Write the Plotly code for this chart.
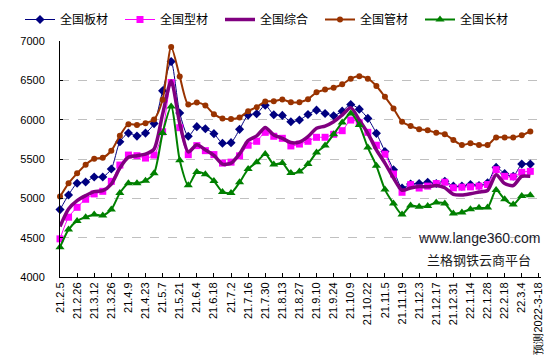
import plotly.graph_objects as go

tick_labels = ["21.2.5", "21.2.26", "21.3.12", "21.3.26", "21.4.9", "21.4.23", "21.5.7", "21.5.21",
               "21.6.4", "21.6.18", "21.7.2", "21.7.16", "21.7.30", "21.8.13", "21.8.27", "21.9.10",
               "21.9.24", "21.10.9", "21.10.22", "21.11.5", "21.11.19", "21.12.3", "21.12.17",
               "21.12.31", "22.1.14", "22.1.28", "22.2.18", "22.3.4", "预测2022-3-18"]

plate = [4857, 5043, 5191, 5208, 5271, 5271, 5373, 5719, 5829, 5791, 5829, 5950, 6366, 6738, 6085,
         5789, 5911, 5885, 5822, 5700, 5708, 5877, 6058, 6075, 6184, 6062, 6054, 5974, 5995, 6066,
         6121, 6079, 6050, 6108, 6193, 6134, 6016, 5826, 5595, 5363, 5132, 5182, 5187, 5205, 5188,
         5218, 5155, 5155, 5176, 5163, 5197, 5393, 5314, 5280, 5435, 5435]
section = [4485, 4760, 4886, 4988, 5056, 5089, 5216, 5423, 5550, 5542, 5512, 5550, 5846, 6472, 5898,
           5555, 5670, 5606, 5556, 5448, 5460, 5540, 5675, 5725, 5839, 5789, 5763, 5666, 5690, 5725,
           5776, 5776, 5814, 5860, 5995, 5961, 5839, 5675, 5561, 5309, 5077, 5174, 5131, 5155, 5188,
           5205, 5134, 5142, 5146, 5155, 5176, 5364, 5280, 5272, 5331, 5343]
composite = [4641, 4865, 4971, 5034, 5085, 5098, 5182, 5385, 5521, 5542, 5563, 5626, 6070, 6493, 5955,
             5590, 5680, 5616, 5545, 5435, 5447, 5565, 5734, 5793, 5902, 5805, 5763, 5709, 5715, 5784,
             5890, 5919, 5974, 6058, 6151, 5995, 5826, 5616, 5447, 5258, 5102, 5132, 5150, 5146, 5163,
             5134, 5050, 5042, 5059, 5080, 5100, 5301, 5188, 5163, 5280, 5280]
pipe = [5022, 5191, 5318, 5428, 5504, 5516, 5605, 5795, 5943, 5931, 5956, 6002, 6252, 6924, 6550,
        6192, 6218, 6180, 6070, 6016, 6007, 6028, 6108, 6159, 6231, 6235, 6256, 6222, 6222, 6260,
        6348, 6382, 6407, 6449, 6521, 6551, 6521, 6428, 6290, 6142, 5974, 5919, 5878, 5866, 5833,
        5816, 5741, 5678, 5699, 5678, 5678, 5774, 5774, 5774, 5803, 5850]
long_ = [4379, 4603, 4713, 4760, 4794, 4781, 4857, 5068, 5191, 5191, 5225, 5318, 5829, 6167, 5485,
         5165, 5335, 5305, 5220, 5081, 5069, 5203, 5372, 5460, 5565, 5431, 5448, 5321, 5342, 5435,
         5582, 5671, 5814, 5965, 6079, 5932, 5645, 5414, 5111, 4934, 4795, 4909, 4892, 4904, 4946,
         4933, 4808, 4820, 4862, 4879, 4883, 5105, 4987, 4921, 5029, 5038]

x = list(range(len(plate)))
tickvals = [2 * i for i in range(len(tick_labels))]

series = [
    ("全国板材", plate, "#000080", 1, dict(symbol="diamond", size=7)),
    ("全国型材", section, "#FF00FF", 1, dict(symbol="square", size=7)),
    ("全国综合", composite, "#800080", 3.5, None),
    ("全国管材", pipe, "#993300", 2, dict(symbol="circle", size=6)),
    ("全国长材", long_, "#008000", 2, dict(symbol="triangle-up", size=8)),
]

fig = go.Figure()
for name, vals, color, w, mk in series:
    kw = {}
    if mk:
        kw["mode"] = "lines+markers"
        kw["marker"] = dict(color=color, **mk)
    else:
        kw["mode"] = "lines"
    fig.add_trace(go.Scatter(x=x, y=vals, name=name, cliponaxis=False,
                             line=dict(color=color, width=w, shape="spline", smoothing=0.7), **kw))

fig.add_annotation(text="www.lange360.com", x=(471 - 52) / 481, y=(269 - 230) / 236,
                   xref="paper", yref="paper", showarrow=False, xanchor="center", yanchor="middle",
                   font=dict(family="Liberation Sans, Arial", size=14, color="#1a1a2a"))
fig.add_annotation(text="兰格钢铁云商平台", x=(471 - 52) / 481, y=(269 - 251) / 236,
                   xref="paper", yref="paper", showarrow=False, xanchor="center", yanchor="middle",
                   font=dict(family="Noto Sans CJK SC", size=13, color="#1a1a1a"))

fig.update_layout(
    width=552, height=364,
    margin=dict(l=52, r=19, t=33, b=95, autoexpand=False),
    paper_bgcolor="white", plot_bgcolor="white",
    font=dict(family="Liberation Sans, Arial", size=11, color="black"),
    showlegend=True,
    legend=dict(orientation="h", xref="paper", yref="paper", x=(12 - 52) / 481, y=(269 + 3) / 236,
                xanchor="left", yanchor="top", entrywidth=55, entrywidthmode="pixels",
                font=dict(family="Noto Sans CJK SC", size=12, color="black"), itemwidth=30,
                tracegroupgap=0, bgcolor="rgba(0,0,0,0)"),
    xaxis=dict(range=[0, 56.25], tickmode="array", tickvals=tickvals, ticktext=tick_labels,
               tickangle=-90, showgrid=False, zeroline=False, showline=True, linecolor="black",
               linewidth=1, ticks="inside", ticklen=4, tickcolor="black",
               tickfont=dict(family="Liberation Sans, Arial", size=11, color="black")),
    yaxis=dict(range=[4000, 7000], dtick=500, showgrid=True, gridcolor="#C0C0C0", griddash="dash",
               gridwidth=1, zeroline=False, showline=True, linecolor="black", linewidth=1,
               ticks="inside", ticklen=3, tickcolor="black", ticklabelstandoff=12,
               tickfont=dict(family="Liberation Sans, Arial", size=11, color="black")),
)

fig.write_html("out.html")
